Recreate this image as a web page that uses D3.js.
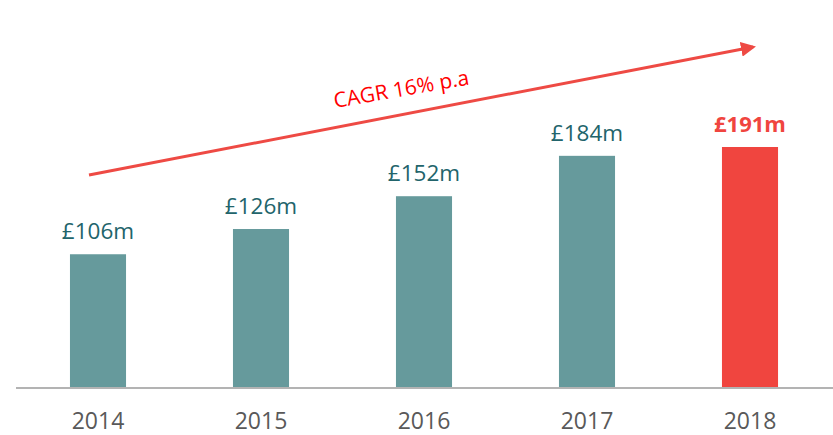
<!DOCTYPE html>
<html lang="en">
<head>
  <meta charset="UTF-8" />
  <title>Revenue 2014-2018</title>
  <script src="https://d3js.org/d3.v7.min.js"></script>
  <style>
    body { margin: 0; background: #fff; }
    svg { display: block; font-family: "Open Sans", sans-serif; }
  </style>
</head>
<body>
  <div id="chart"></div>
  <script>
    const years = ["2014", "2015", "2016", "2017", "2018"];
    const revenue = [106, 126, 152, 184, 191];
    const cagrLabel = "CAGR 16% p.a";

    const width = 833, height = 435;
    const baseline = 388;

    const svg = d3.select("#chart").append("svg")
      .attr("width", width)
      .attr("height", height);

    const x = d3.scaleBand()
      .domain(years)
      .range([16.5, 831.5])
      .paddingInner(0.656)
      .paddingOuter(0.328);

    const y = d3.scaleLinear()
      .domain([0, 191])
      .range([baseline, 147]);

    const last = years.length - 1;

    // bars
    svg.selectAll("rect.bar")
      .data(revenue)
      .join("rect")
      .attr("class", "bar")
      .attr("x", (d, i) => x(years[i]))
      .attr("width", x.bandwidth())
      .attr("y", d => y(d))
      .attr("height", d => baseline - y(d))
      .attr("fill", (d, i) => i === last ? "#f0453f" : "#669a9c");

    // baseline
    svg.append("line")
      .attr("x1", 16).attr("x2", width)
      .attr("y1", baseline).attr("y2", baseline)
      .attr("stroke", "#b3b3b3")
      .attr("stroke-width", 2);

    // year labels
    svg.selectAll("text.year")
      .data(years)
      .join("text")
      .attr("class", "year")
      .attr("x", d => x(d) + x.bandwidth() / 2)
      .attr("y", 429)
      .attr("text-anchor", "middle")
      .attr("font-size", 23)
      .attr("fill", "#595959")
      .text(d => d);

    // value labels
    svg.selectAll("text.value")
      .data(revenue)
      .join("text")
      .attr("class", "value")
      .attr("x", (d, i) => x(years[i]) + x.bandwidth() / 2)
      .attr("y", d => y(d) - 15)
      .attr("text-anchor", "middle")
      .attr("font-size", (d, i) => i === last ? 22 : 22.5)
      .attr("font-weight", (d, i) => i === last ? "bold" : "normal")
      .attr("fill", (d, i) => i === last ? "#f0453f" : "#22646b")
      .text(d => `£${d}m`);

    // CAGR arrow
    const defs = svg.append("defs");
    defs.append("marker")
      .attr("id", "arrow")
      .attr("viewBox", "0 0 10 10")
      .attr("refX", 8).attr("refY", 5)
      .attr("markerWidth", 5).attr("markerHeight", 5)
      .attr("orient", "auto")
      .append("path")
      .attr("d", "M0,0 L10,5 L0,10 Z")
      .attr("fill", "#ee4a44");

    const ax0 = 89, ay0 = 175, ax1 = 753, ay1 = 47;
    svg.append("line")
      .attr("x1", ax0).attr("y1", ay0)
      .attr("x2", ax1).attr("y2", ay1)
      .attr("stroke", "#ee4a44")
      .attr("stroke-width", 3)
      .attr("marker-end", "url(#arrow)");

    const angle = Math.atan2(ay1 - ay0, ax1 - ax0) * 180 / Math.PI;
    svg.append("text")
      .attr("transform", `translate(335,108) rotate(${angle + 1})`)
      .attr("font-size", 21)
      .attr("fill", "#ff0000")
      .text(cagrLabel);
  </script>
</body>
</html>
